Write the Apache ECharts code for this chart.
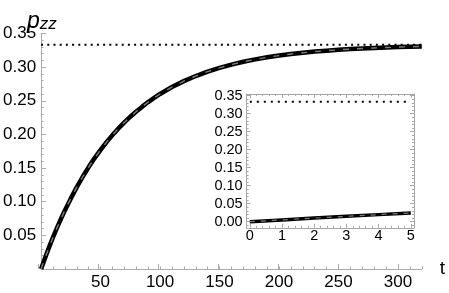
<!DOCTYPE html>
<html><head><meta charset="utf-8">
<script src="https://cdn.jsdelivr.net/npm/echarts@6/dist/echarts.min.js"></script>
<style>html,body{margin:0;padding:0;background:#fff}#c{width:449px;height:293px}</style>
</head><body><div id="c"></div>
<script>
// ---- data ----
const mainT = [0,2.5,5,7.5,10,12.5,15,17.5,20,25,30,35,40,45,50,55,60,65,70,75,80,85,90,95,100,110,120,130,140,150,160,170,180,190,200,210,220,230,240,250,260,270,280,290,300,310,320];
const mainP = [0,0.0124,0.0243,0.0358,0.0469,0.0576,0.0678,0.0776,0.0871,0.1049,0.1217,0.1371,0.1515,0.1648,0.1771,0.1885,0.1990,0.2089,0.2179,0.2263,0.2341,0.2413,0.2481,0.2543,0.2601,0.2704,0.2792,0.2868,0.2934,0.2990,0.3038,0.3080,0.3115,0.3146,0.3172,0.3195,0.3214,0.3231,0.3245,0.3257,0.3268,0.3277,0.3285,0.3292,0.3298,0.3303,0.3307];
const insetT = [0,1,2,3,4,5];
const insetP = [0,0.0050,0.0100,0.0148,0.0196,0.0243];
const limitValue = 0.3333;
const limitMainT = [0,320];
const limitInsetT = [0,5];
// ---- tick labels ----
const mainXLabels = [50,100,150,200,250,300];
const mainXMajor = [0,50,100,150,200,250,300];
const insetXMajor = [0,1,2,3,4,5];
const insetYMajor = [0,0.05,0.10,0.15,0.20,0.25,0.30,0.35];

const insetXMinor = [];
for (let i = 0; i <= 25; i++) { if (i % 5) insetXMinor.push(+(i*0.2).toFixed(2)); }
const insetYMinor = [];
for (let i = -1; i <= 35; i++) { if (i % 5) insetYMinor.push(+(i*0.01).toFixed(2)); }

const FONT = 'Liberation Sans';
const AX = '#aaaaaa';
const FR = '#a6a6a6';
const pairs = (xs, ys) => xs.map((x, i) => [x, ys[i]]);

const mainRect = {left: 37.8, top: 33.5, width: 384, height: 235.5};
const insetRect = {left: 246.6, top: 93.9, width: 167.4, height: 133.9};
const IX = {min: -0.1, max: 5.1};
const IY = {min: -0.017, max: 0.355};

const hidden = {show: false};
function insetAxis(extra, ext, ticks, len, withLine, labels) {
  return Object.assign({
    type: 'value', min: ext.min, max: ext.max,
    axisLine: {show: withLine, onZero: false, lineStyle: {color: FR, width: 1}},
    axisTick: {show: true, inside: true, length: len, customValues: ticks, lineStyle: {color: FR, width: 1}},
    axisLabel: labels ? labels : {show: false},
    splitLine: hidden
  }, extra);
}

const chart = echarts.init(document.getElementById('c'), null, {renderer: 'canvas'});
chart.setOption({
  animation: false,
  backgroundColor: '#fff',
  title: {
    text: '{p|p}{s|zz}', left: 22, top: 4,
    textStyle: {fontWeight: 'normal', rich: {
      p: {fontSize: 23, fontStyle: 'italic', fontWeight: 'normal', fontFamily: FONT, color: '#000', verticalAlign: 'bottom', lineHeight: 24},
      s: {fontSize: 17, fontStyle: 'italic', fontWeight: 'normal', fontFamily: FONT, color: '#000', verticalAlign: 'bottom', lineHeight: 14}
    }}
  },
  grid: [
    Object.assign({}, mainRect),
    Object.assign({}, mainRect),
    Object.assign({}, insetRect),
    Object.assign({}, insetRect)
  ],
  xAxis: [
    {gridIndex: 0, type: 'value', min: 0, max: 320, interval: 10,
     axisLine: {onZero: false, lineStyle: {color: AX, width: 1}},
     axisTick: {inside: true, length: 2.5, lineStyle: {color: AX}},
     axisLabel: {customValues: mainXLabels, fontSize: 17, color: '#000', fontFamily: FONT, margin: 5},
     splitLine: hidden,
     name: 't', nameLocation: 'end', nameGap: 18,
     nameTextStyle: {fontSize: 19, color: '#000', fontFamily: FONT, verticalAlign: 'middle'}},
    {gridIndex: 1, type: 'value', min: 0, max: 320,
     axisLine: {show: false, onZero: false},
     axisTick: {inside: true, length: 5, customValues: mainXMajor, lineStyle: {color: AX}},
     axisLabel: hidden, splitLine: hidden},
    insetAxis({gridIndex: 2, position: 'bottom'}, IX, insetXMajor, 4, true,
      {customValues: insetXMajor, fontSize: 14.5, color: '#000', fontFamily: FONT, margin: 1}),
    insetAxis({gridIndex: 2, position: 'top'}, IX, insetXMajor, 4, true, null),
    insetAxis({gridIndex: 3, position: 'bottom'}, IX, insetXMinor, 2, false, null),
    insetAxis({gridIndex: 3, position: 'top'}, IX, insetXMinor, 2, false, null)
  ],
  yAxis: [
    {gridIndex: 0, type: 'value', min: 0, max: 0.35, interval: 0.05,
     axisLine: {onZero: false, lineStyle: {color: AX, width: 1}},
     axisTick: {inside: true, length: 5, lineStyle: {color: AX}},
     minorTick: {show: true, splitNumber: 5, length: 2.5, lineStyle: {color: AX}},
     axisLabel: {fontSize: 17, color: '#000', fontFamily: FONT, margin: 5,
                 formatter: v => (Math.abs(v) < 1e-9 ? '' : v.toFixed(2))},
     splitLine: hidden, minorSplitLine: hidden},
    {gridIndex: 1, type: 'value', min: 0, max: 1, show: false},
    insetAxis({gridIndex: 2, position: 'left'}, IY, insetYMajor, 4, true,
      {customValues: insetYMajor, fontSize: 14.5, color: '#000', fontFamily: FONT, margin: 4,
       formatter: v => v.toFixed(2)}),
    insetAxis({gridIndex: 2, position: 'right'}, IY, insetYMajor, 4, true, null),
    insetAxis({gridIndex: 3, position: 'left'}, IY, insetYMinor, 2, false, null),
    insetAxis({gridIndex: 3, position: 'right'}, IY, insetYMinor, 2, false, null)
  ],
  series: [
    {type: 'line', xAxisIndex: 0, yAxisIndex: 0, data: pairs(limitMainT, [limitValue, limitValue]),
     showSymbol: false, lineStyle: {color: '#000', width: 2, type: [2, 4.2]}},
    {type: 'line', xAxisIndex: 0, yAxisIndex: 0, data: pairs(mainT, mainP),
     showSymbol: false, lineStyle: {color: '#000', width: 4.5, cap: 'butt', join: 'round'}},
    {type: 'line', xAxisIndex: 0, yAxisIndex: 0, data: pairs(mainT, mainP),
     showSymbol: false, lineStyle: {color: '#7d7d7d', width: 1.4, type: [6, 8]}},
    {type: 'line', xAxisIndex: 2, yAxisIndex: 2, data: pairs(limitInsetT, [limitValue, limitValue]),
     showSymbol: false, lineStyle: {color: '#000', width: 2, type: [2, 5]}},
    {type: 'line', xAxisIndex: 2, yAxisIndex: 2, data: pairs(insetT, insetP),
     showSymbol: false, lineStyle: {color: '#000', width: 3.5}},
    {type: 'line', xAxisIndex: 2, yAxisIndex: 2, data: pairs(insetT, insetP),
     showSymbol: false, lineStyle: {color: '#7d7d7d', width: 1.2, type: [5, 6]}}
  ]
});
</script></body></html>
